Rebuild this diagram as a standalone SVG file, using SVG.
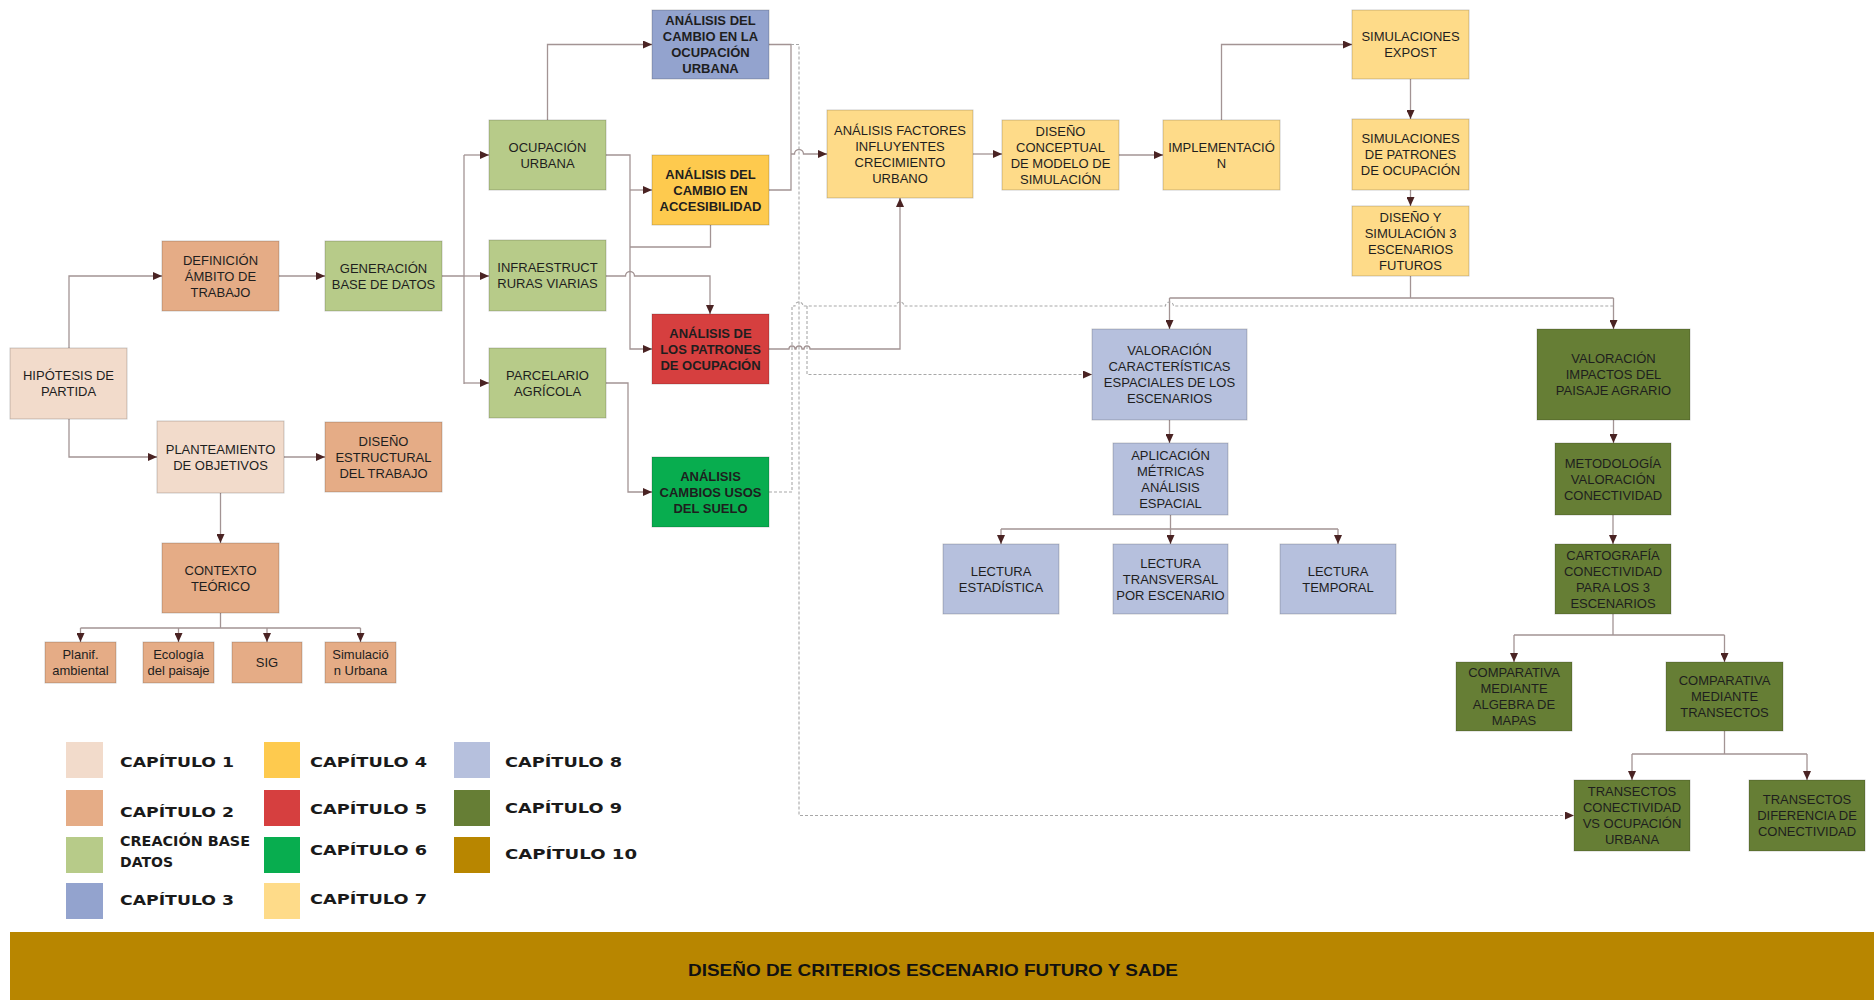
<svg xmlns="http://www.w3.org/2000/svg" width="1874" height="1000" viewBox="0 0 1874 1000">
<style>
.n rect{stroke:#000;stroke-opacity:.2;stroke-width:1}
.t{font-family:"Liberation Sans",Arial,sans-serif;font-size:13px;fill:#1e1e1e;text-anchor:middle}
.b{font-weight:bold}
.c{fill:none;stroke:#a39494;stroke-width:1.3}
.d{fill:none;stroke:#a8a8a8;stroke-width:1.1;stroke-dasharray:3 2}
.a{marker-end:url(#ah)}
.c1{fill:#F2DBCB}.c2{fill:#E5AC86}.cdb{fill:#B7CB89}.c3{fill:#93A3CE}.c4{fill:#FECA4E}.c5{fill:#D63F3F}.c6{fill:#08AD4F}.c7{fill:#FEDB89}.c8{fill:#B6C0DD}.c9{fill:#667E35}.c10{fill:#B88600}
.lg{font-family:"DejaVu Sans",sans-serif;font-weight:bold;font-size:14px;fill:#1a1a1a}
</style>
<defs>
<marker id="ah" markerWidth="10" markerHeight="8" refX="9" refY="4" orient="auto" markerUnits="userSpaceOnUse"><path d="M0,0 L9,4 L0,8 z" fill="#4a2323"/></marker>
</defs>
<rect width="1874" height="1000" fill="#fff"/>

<g id="connectors">
<path class="c a" d="M69,348 V276 H162"/>
<path class="c a" d="M69,419 V457 H157"/>
<path class="c a" d="M279,276 H325"/>
<path class="c a" d="M284,457 H325"/>
<path class="c a" d="M220.5,493 V543"/>
<path class="c" d="M220.5,613 V628 M80.5,628 H360.5"/>
<path class="c a" d="M80.5,628 V642"/>
<path class="c a" d="M178.5,628 V642"/>
<path class="c a" d="M267,628 V642"/>
<path class="c a" d="M360.5,628 V642"/>
<path class="c" d="M442,276 H464 M464,155 V384"/>
<path class="c a" d="M464,155 H489"/>
<path class="c a" d="M464,276 H489"/>
<path class="c a" d="M464,383 H489"/>
<path class="c a" d="M547.5,120 V44.5 H652"/>
<path class="c a" d="M606,155 H630 V349 H652"/>
<path class="c a" d="M630,190 H652"/>
<path class="c a" d="M606,276 H625.5 A4.5,4.5 0 0 1 634.5,276 H710 V314"/>
<path class="c" d="M710.5,225 V247 H630"/>
<path class="c" d="M769,44.5 H791 V190 H769"/>
<path class="c a" d="M791,154 H794.5 A4.5,4.5 0 0 1 803.5,154 H827"/>
<path class="c a" d="M606,383 H628 V492 H652"/>
<path class="c a" d="M769,349 H789 A3,3 0 0 1 795,349 H796 A3,3 0 0 1 802,349 H804 A3,3 0 0 1 810,349 H900 V198"/>
<path class="c a" d="M973,154 H1002"/>
<path class="c a" d="M1119,155 H1163"/>
<path class="c a" d="M1221.5,120 V44.5 H1352"/>
<path class="c a" d="M1410.5,79 V119"/>
<path class="c a" d="M1410.5,190 V206"/>
<path class="c" d="M1410.5,276 V298 M1169.5,298 H1613.5"/>
<path class="c a" d="M1169.5,298 V329"/>
<path class="c a" d="M1613.5,298 V329"/>
<path class="c a" d="M1169.5,420 V443"/>
<path class="c" d="M1170.5,515 V529 M1001,529 H1338"/>
<path class="c a" d="M1001,529 V544"/>
<path class="c a" d="M1170.5,529 V544"/>
<path class="c a" d="M1338,529 V544"/>
<path class="c a" d="M1613.5,420 V443"/>
<path class="c a" d="M1613,515 V544"/>
<path class="c" d="M1613,614 V635 M1514,635 H1724.5"/>
<path class="c a" d="M1514,635 V662"/>
<path class="c a" d="M1724.5,635 V662"/>
<path class="c" d="M1724.5,731 V754 M1632,754 H1807"/>
<path class="c a" d="M1632,754 V780"/>
<path class="c a" d="M1807,754 V780"/>
<path class="d a" d="M791,44.5 H799 V815.5 H1574"/>
<path class="d" d="M769,492 H792 V306 H795 A4,4 0 0 1 803,306 H896 A4,4 0 0 1 904,306 H1165.5 A4,4 0 0 1 1173.5,306 H1613.5"/>
<path class="d a" d="M807,306 V374.5 H1092"/>
</g>

<g id="n-hipotesis" class="n"><rect class="c1" x="10" y="348" width="117" height="71"/><text class="t" x="68.5" y="380">HIPÓTESIS DE</text><text class="t" x="68.5" y="396">PARTIDA</text></g>
<g id="n-definicion" class="n"><rect class="c2" x="162" y="241" width="117" height="70"/><text class="t" x="220.5" y="264.6">DEFINICIÓN</text><text class="t" x="220.5" y="280.6">ÁMBITO DE</text><text class="t" x="220.5" y="296.6">TRABAJO</text></g>
<g id="n-generacion" class="n"><rect class="cdb" x="325" y="241" width="117" height="70"/><text class="t" x="383.5" y="272.6">GENERACIÓN</text><text class="t" x="383.5" y="288.6">BASE DE DATOS</text></g>
<g id="n-planteamiento" class="n"><rect class="c1" x="157" y="421" width="127" height="72"/><text class="t" x="220.5" y="453.6">PLANTEAMIENTO</text><text class="t" x="220.5" y="469.6">DE OBJETIVOS</text></g>
<g id="n-diseno-estructural" class="n"><rect class="c2" x="325" y="422" width="117" height="70"/><text class="t" x="383.5" y="445.6">DISEÑO</text><text class="t" x="383.5" y="461.6">ESTRUCTURAL</text><text class="t" x="383.5" y="477.6">DEL TRABAJO</text></g>
<g id="n-contexto" class="n"><rect class="c2" x="162" y="543" width="117" height="70"/><text class="t" x="220.5" y="574.6">CONTEXTO</text><text class="t" x="220.5" y="590.6">TEÓRICO</text></g>
<g id="n-planif" class="n"><rect class="c2" x="45" y="642" width="71" height="41"/><text class="t" x="80.5" y="659">Planif.</text><text class="t" x="80.5" y="674.6">ambiental</text></g>
<g id="n-ecologia" class="n"><rect class="c2" x="143" y="642" width="71" height="41"/><text class="t" x="178.5" y="659">Ecología</text><text class="t" x="178.5" y="674.6">del paisaje</text></g>
<g id="n-sig" class="n"><rect class="c2" x="232" y="642" width="70" height="41"/><text class="t" x="267" y="667">SIG</text></g>
<g id="n-simulacion" class="n"><rect class="c2" x="325" y="642" width="71" height="41"/><text class="t" x="360.5" y="659">Simulació</text><text class="t" x="360.5" y="674.6">n Urbana</text></g>

<g id="n-ocupacion" class="n"><rect class="cdb" x="489" y="120" width="117" height="70"/><text class="t" x="547.5" y="151.6">OCUPACIÓN</text><text class="t" x="547.5" y="167.6">URBANA</text></g>
<g id="n-infra" class="n"><rect class="cdb" x="489" y="240" width="117" height="71"/><text class="t" x="547.5" y="272">INFRAESTRUCT</text><text class="t" x="547.5" y="288">RURAS VIARIAS</text></g>
<g id="n-parcelario" class="n"><rect class="cdb" x="489" y="348" width="117" height="70"/><text class="t" x="547.5" y="379.6">PARCELARIO</text><text class="t" x="547.5" y="395.6">AGRÍCOLA</text></g>

<g id="n-cambio-ocupacion" class="n"><rect class="c3" x="652" y="10" width="117" height="69"/><text class="t b" x="710.5" y="25">ANÁLISIS DEL</text><text class="t b" x="710.5" y="41">CAMBIO EN LA</text><text class="t b" x="710.5" y="57">OCUPACIÓN</text><text class="t b" x="710.5" y="73">URBANA</text></g>
<g id="n-accesibilidad" class="n"><rect class="c4" x="652" y="155" width="117" height="70"/><text class="t b" x="710.5" y="178.6">ANÁLISIS DEL</text><text class="t b" x="710.5" y="194.6">CAMBIO EN</text><text class="t b" x="710.5" y="210.6">ACCESIBILIDAD</text></g>
<g id="n-patrones" class="n"><rect class="c5" x="652" y="314" width="117" height="70"/><text class="t b" x="710.5" y="337.6">ANÁLISIS DE</text><text class="t b" x="710.5" y="353.6">LOS PATRONES</text><text class="t b" x="710.5" y="369.6">DE OCUPACIÓN</text></g>
<g id="n-usos" class="n"><rect class="c6" x="652" y="457" width="117" height="70"/><text class="t b" x="710.5" y="480.6">ANÁLISIS</text><text class="t b" x="710.5" y="496.6">CAMBIOS USOS</text><text class="t b" x="710.5" y="512.6">DEL SUELO</text></g>

<g id="n-factores" class="n"><rect class="c7" x="827" y="110" width="146" height="88"/><text class="t" x="900" y="134.6">ANÁLISIS FACTORES</text><text class="t" x="900" y="150.6">INFLUYENTES</text><text class="t" x="900" y="166.6">CRECIMIENTO</text><text class="t" x="900" y="182.6">URBANO</text></g>
<g id="n-conceptual" class="n"><rect class="c7" x="1002" y="120" width="117" height="70"/><text class="t" x="1060.5" y="135.6">DISEÑO</text><text class="t" x="1060.5" y="151.6">CONCEPTUAL</text><text class="t" x="1060.5" y="167.6">DE MODELO DE</text><text class="t" x="1060.5" y="183.6">SIMULACIÓN</text></g>
<g id="n-implementacion" class="n"><rect class="c7" x="1163" y="120" width="117" height="70"/><text class="t" x="1221.5" y="151.6">IMPLEMENTACIÓ</text><text class="t" x="1221.5" y="167.6">N</text></g>
<g id="n-expost" class="n"><rect class="c7" x="1352" y="10" width="117" height="69"/><text class="t" x="1410.5" y="41">SIMULACIONES</text><text class="t" x="1410.5" y="57">EXPOST</text></g>
<g id="n-sim-patrones" class="n"><rect class="c7" x="1352" y="119" width="117" height="71"/><text class="t" x="1410.5" y="143">SIMULACIONES</text><text class="t" x="1410.5" y="159">DE PATRONES</text><text class="t" x="1410.5" y="175">DE OCUPACIÓN</text></g>
<g id="n-escenarios" class="n"><rect class="c7" x="1352" y="206" width="117" height="70"/><text class="t" x="1410.5" y="221.6">DISEÑO Y</text><text class="t" x="1410.5" y="237.6">SIMULACIÓN 3</text><text class="t" x="1410.5" y="253.6">ESCENARIOS</text><text class="t" x="1410.5" y="269.6">FUTUROS</text></g>

<g id="n-val-caract" class="n"><rect class="c8" x="1092" y="329" width="155" height="91"/><text class="t" x="1169.5" y="355">VALORACIÓN</text><text class="t" x="1169.5" y="371">CARACTERÍSTICAS</text><text class="t" x="1169.5" y="387">ESPACIALES DE LOS</text><text class="t" x="1169.5" y="403">ESCENARIOS</text></g>
<g id="n-aplicacion" class="n"><rect class="c8" x="1113" y="443" width="115" height="72"/><text class="t" x="1170.5" y="459.6">APLICACIÓN</text><text class="t" x="1170.5" y="475.6">MÉTRICAS</text><text class="t" x="1170.5" y="491.6">ANÁLISIS</text><text class="t" x="1170.5" y="507.6">ESPACIAL</text></g>
<g id="n-lect-est" class="n"><rect class="c8" x="943" y="544" width="116" height="70"/><text class="t" x="1001" y="575.6">LECTURA</text><text class="t" x="1001" y="591.6">ESTADÍSTICA</text></g>
<g id="n-lect-trans" class="n"><rect class="c8" x="1113" y="544" width="115" height="70"/><text class="t" x="1170.5" y="567.6">LECTURA</text><text class="t" x="1170.5" y="583.6">TRANSVERSAL</text><text class="t" x="1170.5" y="599.6">POR ESCENARIO</text></g>
<g id="n-lect-temp" class="n"><rect class="c8" x="1280" y="544" width="116" height="70"/><text class="t" x="1338" y="575.6">LECTURA</text><text class="t" x="1338" y="591.6">TEMPORAL</text></g>

<g id="n-val-impactos" class="n"><rect class="c9" x="1537" y="329" width="153" height="91"/><text class="t" x="1613.5" y="363">VALORACIÓN</text><text class="t" x="1613.5" y="379">IMPACTOS DEL</text><text class="t" x="1613.5" y="395">PAISAJE AGRARIO</text></g>
<g id="n-metodologia" class="n"><rect class="c9" x="1555" y="443" width="116" height="72"/><text class="t" x="1613" y="467.6">METODOLOGÍA</text><text class="t" x="1613" y="483.6">VALORACIÓN</text><text class="t" x="1613" y="499.6">CONECTIVIDAD</text></g>
<g id="n-cartografia" class="n"><rect class="c9" x="1555" y="544" width="116" height="70"/><text class="t" x="1613" y="559.6">CARTOGRAFÍA</text><text class="t" x="1613" y="575.6">CONECTIVIDAD</text><text class="t" x="1613" y="591.6">PARA LOS 3</text><text class="t" x="1613" y="607.6">ESCENARIOS</text></g>
<g id="n-comp-algebra" class="n"><rect class="c9" x="1456" y="662" width="116" height="69"/><text class="t" x="1514" y="677">COMPARATIVA</text><text class="t" x="1514" y="693">MEDIANTE</text><text class="t" x="1514" y="709">ALGEBRA DE</text><text class="t" x="1514" y="725">MAPAS</text></g>
<g id="n-comp-transectos" class="n"><rect class="c9" x="1666" y="662" width="117" height="69"/><text class="t" x="1724.5" y="685">COMPARATIVA</text><text class="t" x="1724.5" y="701">MEDIANTE</text><text class="t" x="1724.5" y="717">TRANSECTOS</text></g>
<g id="n-trans-vs" class="n"><rect class="c9" x="1574" y="780" width="116" height="71"/><text class="t" x="1632" y="796">TRANSECTOS</text><text class="t" x="1632" y="812">CONECTIVIDAD</text><text class="t" x="1632" y="828">VS OCUPACIÓN</text><text class="t" x="1632" y="844">URBANA</text></g>
<g id="n-trans-dif" class="n"><rect class="c9" x="1749" y="780" width="116" height="71"/><text class="t" x="1807" y="804">TRANSECTOS</text><text class="t" x="1807" y="820">DIFERENCIA DE</text><text class="t" x="1807" y="836">CONECTIVIDAD</text></g>

<g id="legend">
<rect class="c1" x="66" y="742" width="37" height="36"/>
<rect class="c2" x="66" y="790" width="37" height="36"/>
<rect class="cdb" x="66" y="837" width="37" height="36"/>
<rect class="c3" x="66" y="883" width="37" height="36"/>
<rect class="c4" x="264" y="742" width="36" height="36"/>
<rect class="c5" x="264" y="790" width="36" height="36"/>
<rect class="c6" x="264" y="837" width="36" height="36"/>
<rect class="c7" x="264" y="883" width="36" height="36"/>
<rect class="c8" x="454" y="742" width="36" height="36"/>
<rect class="c9" x="454" y="790" width="36" height="36"/>
<rect class="c10" x="454" y="837" width="36" height="36"/>
<text class="lg" x="120" y="767" textLength="114" lengthAdjust="spacingAndGlyphs">CAPÍTULO 1</text>
<text class="lg" x="120" y="817" textLength="114" lengthAdjust="spacingAndGlyphs">CAPÍTULO 2</text>
<text class="lg" x="120" y="846" font-size="11" textLength="130" lengthAdjust="spacingAndGlyphs">CREACIÓN BASE</text>
<text class="lg" x="120" y="867" font-size="11" textLength="53" lengthAdjust="spacingAndGlyphs">DATOS</text>
<text class="lg" x="120" y="905" textLength="114" lengthAdjust="spacingAndGlyphs">CAPÍTULO 3</text>
<text class="lg" x="310" y="767" textLength="117" lengthAdjust="spacingAndGlyphs">CAPÍTULO 4</text>
<text class="lg" x="310" y="814" textLength="117" lengthAdjust="spacingAndGlyphs">CAPÍTULO 5</text>
<text class="lg" x="310" y="855" textLength="117" lengthAdjust="spacingAndGlyphs">CAPÍTULO 6</text>
<text class="lg" x="310" y="904" textLength="117" lengthAdjust="spacingAndGlyphs">CAPÍTULO 7</text>
<text class="lg" x="505" y="767" textLength="117" lengthAdjust="spacingAndGlyphs">CAPÍTULO 8</text>
<text class="lg" x="505" y="813" textLength="117" lengthAdjust="spacingAndGlyphs">CAPÍTULO 9</text>
<text class="lg" x="505" y="859" textLength="132" lengthAdjust="spacingAndGlyphs">CAPÍTULO 10</text>
</g>

<g id="banner">
<rect x="10" y="932" width="1864" height="68" fill="#B88600"/>
<text x="933" y="976" text-anchor="middle" font-family="'Liberation Sans',Arial,sans-serif" font-weight="bold" font-size="17" fill="#111" textLength="490" lengthAdjust="spacingAndGlyphs">DISEÑO DE CRITERIOS ESCENARIO FUTURO Y SADE</text>
</g>
</svg>
